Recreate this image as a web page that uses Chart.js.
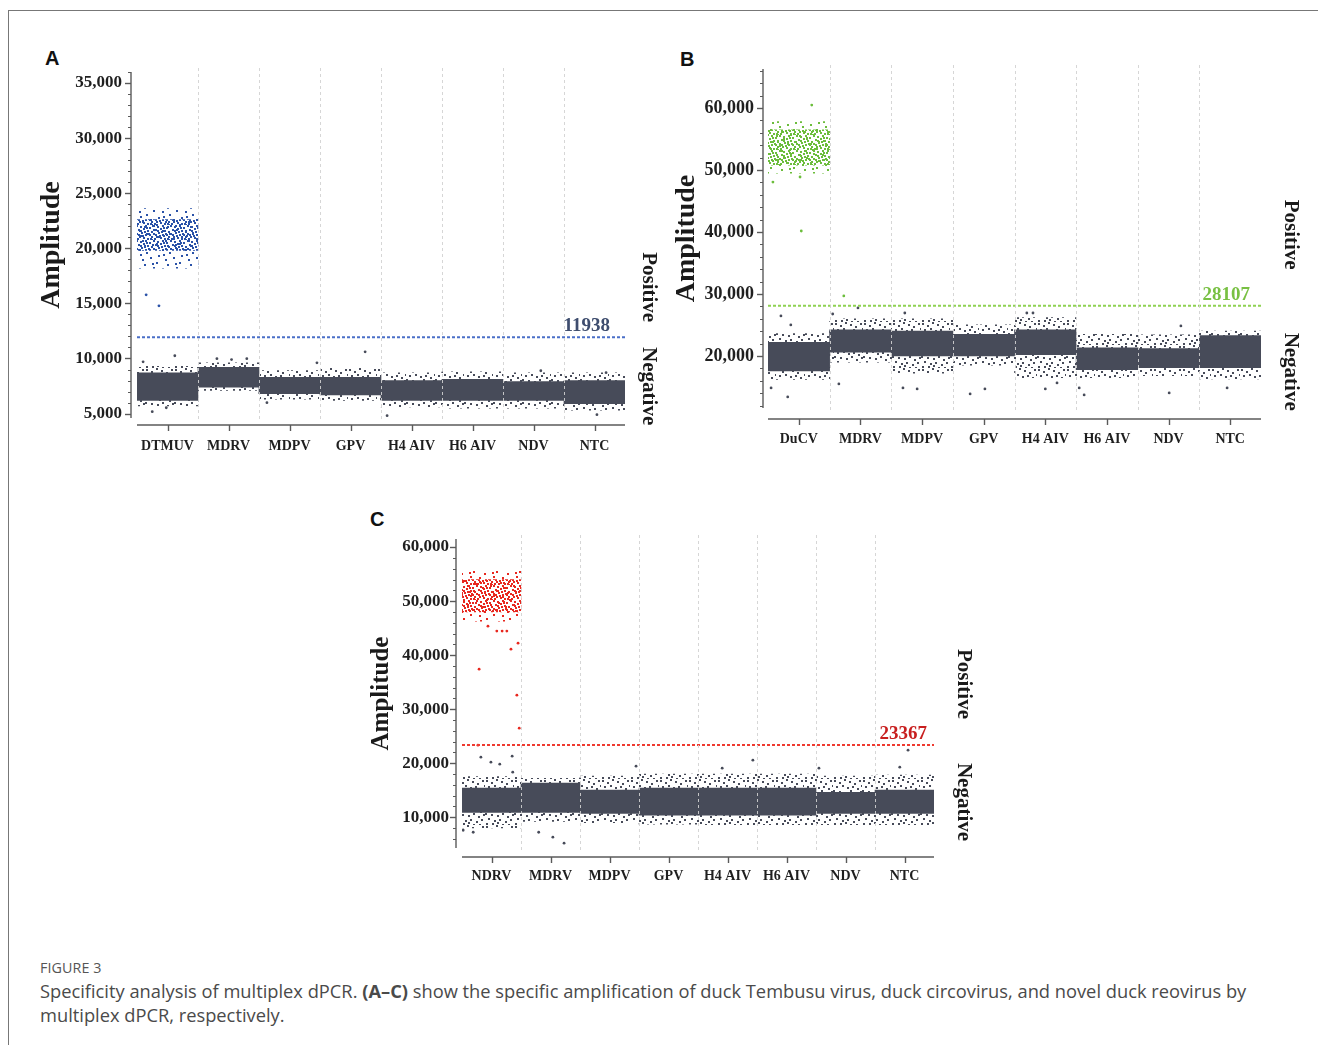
<!DOCTYPE html>
<html>
<head>
<meta charset="utf-8">
<script src="https://cdn.jsdelivr.net/npm/chart.js@4.4.1/dist/chart.umd.min.js"></script>
<style>
  body { margin: 0; background: #fff; width: 1318px; height: 1045px; position: relative; overflow: hidden; }
  .frame { position: absolute; left: 8px; top: 10px; width: 1330px; height: 1060px;
           border-left: 1px solid #777; border-top: 1px solid #777; }
  canvas { position: absolute; }
  .tag { position: absolute; font: bold 20px "Liberation Sans", Arial, sans-serif; color: #111; line-height: 20px; }
  .fig { position: absolute; left: 40px; top: 958px; font: 14.3px "Open Sans", sans-serif; color: #555; letter-spacing: 0.1px; }
  .cap { position: absolute; left: 40px; top: 979px; font: 18.3px/24px "Open Sans", sans-serif; color: #4a4a4a; white-space: nowrap; }
</style>
</head>
<body>
<div class="frame"></div>
<div class="tag" style="left:45px;top:48px">A</div>
<div class="tag" style="left:680px;top:49px">B</div>
<div class="tag" style="left:370px;top:509px">C</div>
<canvas id="chartA" width="680" height="470" style="left:0;top:0"></canvas>
<canvas id="chartB" width="658" height="470" style="left:660px;top:0"></canvas>
<canvas id="chartC" width="660" height="420" style="left:340px;top:480px"></canvas>
<div class="fig">FIGURE 3</div>
<div class="cap">Specificity analysis of multiplex dPCR. <b>(A–C)</b> show the specific amplification of duck Tembusu virus, duck circovirus, and novel duck reovirus by<br>multiplex dPCR, respectively.</div>

<script>
// ---- panel A : duck Tembusu virus ----
const wellsA = ["DTMUV", "MDRV", "MDPV", "GPV", "H4 AIV", "H6 AIV", "NDV", "NTC"]
const yTicksA = [5000, 10000, 15000, 20000, 25000, 30000, 35000]
const negCoreA = [[6200,8700],[7400,9200],[6800,8300],[6700,8300],[6200,8000],[6200,8100],[6200,7900],[5900,8000]]
const negHaloA = [[5700,9300],[7100,9600],[6300,8900],[6200,9100],[5600,8700],[5500,8800],[5500,8700],[5300,8700]]
const posCoreA = [[19800,22600],null,null,null,null,null,null,null]
const posHaloA = [[18200,23600],null,null,null,null,null,null,null]
const negOutA = [
    {x:-0.40,y:9700},{x:0.12,y:10250},{x:-0.25,y:5170},{x:-0.02,y:5530},
    {x:0.81,y:9980},{x:1.30,y:9980},{x:1.05,y:9900},
    {x:1.63,y:5990},{x:2.45,y:9610},{x:3.24,y:10610},
    {x:3.60,y:4810},{x:6.12,y:8890},{x:7.19,y:8710},{x:7.04,y:4900}
]
const posOutA = [{x:-0.35,y:15780},{x:-0.14,y:14780}]
const thresholdA = 11938

// ---- panel B : duck circovirus ----
const wellsB = ["DuCV", "MDRV", "MDPV", "GPV", "H4 AIV", "H6 AIV", "NDV", "NTC"]
const yTicksB = [20000, 30000, 40000, 50000, 60000]
const negCoreB = [[17600,22200],[20600,24200],[20000,24000],[20000,23500],[20200,24200],[17800,21300],[18100,21200],[18100,23300]]
const negHaloB = [[16200,23600],[19000,26000],[17200,26000],[18500,25000],[16500,26200],[16500,23500],[16800,23400],[16300,24000]]
const posCoreB = [[50800,56500],null,null,null,null,null,null,null]
const posHaloB = [[49500,57800],null,null,null,null,null,null,null]
const negOutB = [
    {x:-0.29,y:26450},{x:-0.13,y:25000},{x:-0.18,y:13390},{x:-0.45,y:14840},
    {x:0.96,y:27740},{x:0.55,y:26770},{x:0.65,y:15480},
    {x:1.72,y:26930},{x:1.69,y:14840},{x:1.92,y:14680},
    {x:2.78,y:13870},{x:3.02,y:14680},
    {x:3.70,y:26930},{x:3.80,y:26930},{x:4.00,y:14680},{x:4.19,y:15650},
    {x:4.63,y:13710},{x:4.55,y:14840},
    {x:6.20,y:24840},{x:6.01,y:14030},{x:6.95,y:14840}
]
const posOutB = [{x:0.21,y:60480},{x:0.04,y:40160},{x:-0.42,y:48060},{x:0.02,y:48870},{x:0.73,y:29680}]
const thresholdB = 28107

// ---- panel C : novel duck reovirus ----
const wellsC = ["NDRV", "MDRV", "MDPV", "GPV", "H4 AIV", "H6 AIV", "NDV", "NTC"]
const yTicksC = [10000, 20000, 30000, 40000, 50000, 60000]
const negCoreC = [[10900,15400],[10900,16300],[10700,15000],[10400,15400],[10400,15400],[10400,15400],[10700,14600],[10700,15000]]
const negHaloC = [[8000,17500],[9200,17200],[9000,17600],[8700,18000],[8600,18000],[8600,18000],[8600,17600],[8600,17800]]
const posCoreC = [[48000,54000],null,null,null,null,null,null,null]
const posHaloC = [[46300,55700],null,null,null,null,null,null,null]
const negOutC = [
    {x:0.35,y:21300},{x:-0.01,y:20190},{x:-0.18,y:21110},{x:0.14,y:19810},{x:0.36,y:18330},
    {x:-0.48,y:7590},{x:-0.31,y:7220},
    {x:0.80,y:7220},{x:1.04,y:6300},{x:1.23,y:5185},
    {x:2.45,y:19440},{x:3.91,y:19070},{x:4.43,y:20560},{x:5.55,y:19070},
    {x:7.06,y:22410},{x:6.92,y:19260}
]
const posOutC = [
    {x:-0.21,y:37410},{x:0.33,y:41110},{x:0.45,y:42220},{x:0.43,y:32590},{x:0.47,y:26480},
    {x:-0.06,y:45370},{x:0.09,y:44450},{x:0.18,y:44450},{x:0.26,y:44450},{x:-0.23,y:23330}
]
const thresholdC = 23367

const NEG = "#474b59"
const SERIF = '"Liberation Serif", "Times New Roman", serif'

// small dotted tiles used to mimic droplet clouds
function dots(color, w, h, pts, size) {
    const c = document.createElement("canvas")
    c.width = w
    c.height = h
    const g = c.getContext("2d")
    g.fillStyle = color
    pts.forEach(p => g.fillRect(p[0], p[1], size, size))
    return g.createPattern(c, "repeat")
}
const denseTile = [[0,0],[4,1],[9,0],[13,2],[2,4],[7,3],[11,5],[15,6],[0,8],[5,7],[9,9],[13,9],[3,11],
    [7,12],[11,13],[15,11],[1,13],[6,10],[16,14],[10,2],[14,13],[4,5],[8,6],[12,8],[2,9]]
const sparseTile = [[1,2],[8,5],[15,1],[20,8],[4,12],[12,10],[18,15],[6,17],[14,16],[2,7]]
const fringeTile = [[1,1],[6,3],[11,0],[16,2],[21,4],[26,1],[3,7],[9,6],[14,8],[19,7],[24,9],[0,11],[6,12],
    [12,13],[17,11],[22,14],[27,12],[3,16],[9,18],[14,17],[20,19],[25,17],[1,21],[7,21],[12,20],[17,22],[23,22],[28,6]]

const decor = {
    id: "decor",
    afterDatasetsDraw(chart, args, o) {
        const {ctx, chartArea: a} = chart
        const xs = chart.scales.x
        ctx.save()
        ctx.strokeStyle = "rgba(210,210,210,0.9)"
        ctx.lineWidth = 1
        ctx.setLineDash([3, 3])
        for (let i = 1; i < xs.ticks.length; i++) {
            const px = Math.round((xs.getPixelForTick(i - 1) + xs.getPixelForTick(i)) / 2) + 0.5
            ctx.beginPath()
            ctx.moveTo(px, a.top - o.gridUp)
            ctx.lineTo(px, a.bottom + 2)
            ctx.stroke()
        }
        ctx.restore()
    },
    afterDraw(chart, args, o) {
        const {ctx, chartArea: a} = chart
        const xs = chart.scales.x, ys = chart.scales.y
        const seg = (x1, y1, x2, y2) => { ctx.beginPath(); ctx.moveTo(x1, y1); ctx.lineTo(x2, y2); ctx.stroke() }
        ctx.save()
        ctx.strokeStyle = "#5a5a5a"
        ctx.lineWidth = 1.4
        // y axis with major + minor ticks
        const ax = a.left - o.yGap
        seg(ax, a.top, ax, a.bottom)
        ys.ticks.forEach(t => {
            const py = Math.round(ys.getPixelForValue(t.value)) + 0.5
            seg(ax - 6, py, ax, py)
        })
        ctx.lineWidth = 1
        for (let v = Math.ceil(ys.min / o.minor) * o.minor; v <= ys.max; v += o.minor) {
            const py = Math.round(ys.getPixelForValue(v)) + 0.5
            seg(ax - 3, py, ax, py)
        }
        // x axis
        ctx.lineWidth = 1.4
        const by = a.bottom + o.xGap
        seg(a.left, by, a.right, by)
        xs.ticks.forEach((t, i) => {
            const px = Math.round(xs.getPixelForTick(i)) + 0.5
            seg(px, by, px, by + 6)
        })
        // threshold value
        const ty = ys.getPixelForValue(o.threshold)
        ctx.font = "bold 19px " + SERIF
        ctx.fillStyle = o.labelColor
        ctx.textAlign = "right"
        ctx.textBaseline = "alphabetic"
        ctx.fillText(String(o.threshold), a.right - o.labelInset, ty - 6)
        // Positive / Negative side labels
        ctx.font = "bold 21px " + SERIF
        ctx.fillStyle = "#1a1a1a"
        ctx.textAlign = "center"
        ctx.textBaseline = "middle"
        ;[["Positive", -o.posOff], ["Negative", o.negOff]].forEach(([txt, off]) => {
            ctx.save()
            ctx.translate(a.right + o.sideX, ty + off)
            ctx.rotate(Math.PI / 2)
            ctx.fillText(txt, 0, 0)
            ctx.restore()
        })
        ctx.restore()
    }
}

function panel(id, wells, yTicks, negCore, negHalo, posCore, posHalo, negOut, posOut, threshold, st) {
    const bar = (data, color, order) => ({
        type: "bar", data: data, backgroundColor: color, borderWidth: 0,
        grouped: false, barPercentage: 1, categoryPercentage: 1, order: order
    })
    const pts = (data, color) => ({
        type: "scatter", xAxisID: "xl", data: data, backgroundColor: color, borderWidth: 0,
        pointRadius: 1.4, order: 1
    })
    return new Chart(document.getElementById(id), {
        type: "bar",
        data: {
            labels: wells,
            datasets: [
                {
                    type: "line", xAxisID: "xl", order: 0, pointRadius: 0, borderWidth: 2,
                    borderColor: st.lineColor, borderDash: [3, 2],
                    data: [{x: -0.5, y: threshold}, {x: wells.length - 0.5, y: threshold}]
                },
                pts(negOut, NEG),
                pts(posOut, st.posColor),
                bar(negCore, NEG, 2),
                bar(posCore, dots(st.posColor, 17, 15, denseTile, 2), 2),
                bar(negHalo, dots(NEG, 29, 23, fringeTile, 2), 3),
                bar(posHalo, dots(st.posColor, 23, 19, sparseTile, 2), 3)
            ]
        },
        options: {
            responsive: false,
            animation: false,
            layout: {padding: {left: 0, top: st.top, right: st.right, bottom: 0}},
            plugins: {
                legend: {display: false},
                tooltip: {enabled: false},
                decor: {
                    threshold: threshold, labelColor: st.labelColor, labelInset: st.labelInset,
                    yGap: st.yGap, xGap: st.xGap, minor: st.minor, gridUp: 4,
                    sideX: st.sideX, posOff: st.posOff, negOff: st.negOff
                }
            },
            scales: {
                x: {
                    type: "category", offset: true,
                    grid: {display: false, drawTicks: false}, border: {display: false},
                    ticks: {color: "#1f1f1f", padding: st.xPad, font: {family: SERIF, weight: "bold", size: 14}},
                    afterFit: s => { s.height = st.xH }
                },
                xl: {type: "linear", display: false, offset: false, min: -0.5, max: wells.length - 0.5},
                y: {
                    min: st.yMin, max: st.yMax,
                    grid: {display: false, drawTicks: false}, border: {display: false},
                    ticks: {
                        color: "#1f1f1f", padding: st.yPad,
                        font: {family: SERIF, weight: "bold", size: st.yFont},
                        callback: v => v.toLocaleString("en-US")
                    },
                    afterBuildTicks: s => { s.ticks = yTicks.map(v => ({value: v})) },
                    title: {
                        display: true, text: "Amplitude", color: "#1a1a1a",
                        font: {family: SERIF, weight: "bold", size: st.titleSize, lineHeight: 1},
                        padding: {top: st.titlePad, bottom: 0}
                    },
                    afterFit: s => { s.width = st.yW }
                }
            }
        },
        plugins: [decor]
    })
}

const chartA = panel("chartA", wellsA, yTicksA, negCoreA, negHaloA, posCoreA, posHaloA, negOutA, posOutA, thresholdA, {
    posColor: "#2a52a8", lineColor: "#4a6fc8", labelColor: "#3e4d6e", labelInset: 15,
    yMin: 4600, yMax: 36000, minor: 1000, yFont: 17, yPad: 15, yW: 137, yGap: 6,
    titleSize: 28, titlePad: 38, top: 72, right: 55, xH: 52, xPad: 20, xGap: 7,
    sideX: 23, posOff: 50, negOff: 49
})
const chartB = panel("chartB", wellsB, yTicksB, negCoreB, negHaloB, posCoreB, posHaloB, negOutB, posOutB, thresholdB, {
    posColor: "#6cbd3c", lineColor: "#8fd251", labelColor: "#78c043", labelInset: 11,
    yMin: 11600, yMax: 66300, minor: 2000, yFont: 18, yPad: 14, yW: 108, yGap: 5,
    titleSize: 28, titlePad: 13, top: 69, right: 57, xH: 62, xPad: 23, xGap: 11,
    sideX: 29, posOff: 71, negOff: 66
})
const chartC = panel("chartC", wellsC, yTicksC, negCoreC, negHaloC, posCoreC, posHaloC, negOutC, posOutC, thresholdC, {
    posColor: "#e8281f", lineColor: "#ef3a30", labelColor: "#c81f1f", labelInset: 7,
    yMin: 4300, yMax: 61500, minor: 2000, yFont: 17, yPad: 13, yW: 122, yGap: 6,
    titleSize: 25, titlePad: 29, top: 59, right: 66, xH: 52, xPad: 20, xGap: 9,
    sideX: 29, posOff: 61, negOff: 57
})
</script>
</body>
</html>
